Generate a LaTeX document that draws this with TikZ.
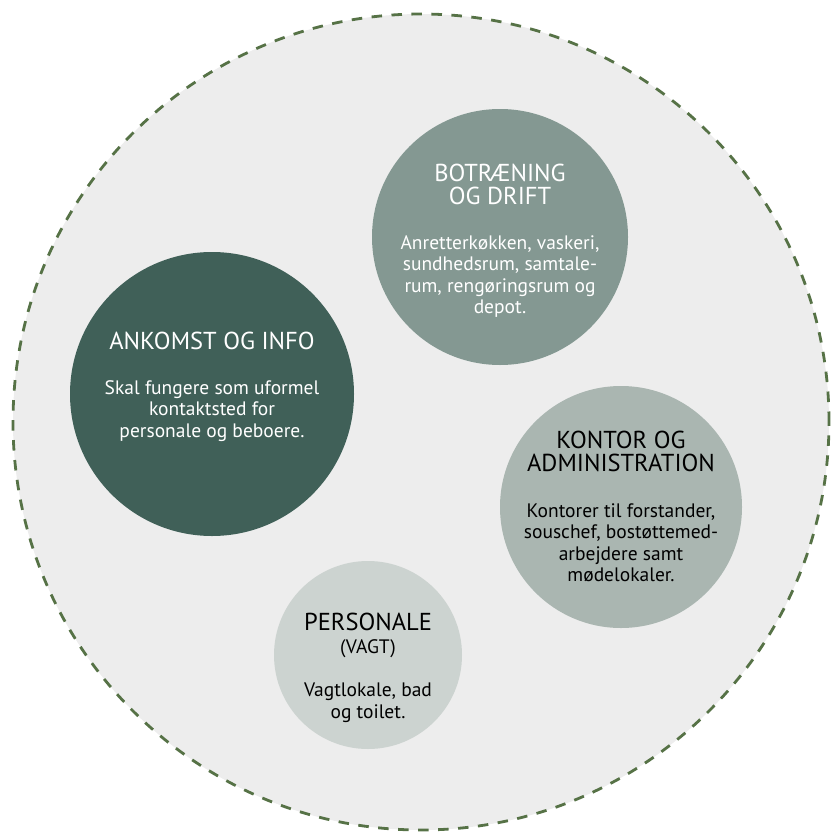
\documentclass[tikz,border=0pt]{standalone}
\usepackage{fontspec}
\setmainfont{PT Sans}
\usetikzlibrary{positioning}
\definecolor{ringgreen}{RGB}{86,114,70}
\definecolor{ringfill}{RGB}{237,237,237}
\definecolor{darkteal}{RGB}{64,96,88}
\definecolor{midteal}{RGB}{132,152,146}
\definecolor{lightteal}{RGB}{170,182,177}
\definecolor{paleteal}{RGB}{204,211,208}

\tikzset{
  bubble/.style={circle, draw=none, inner sep=0pt},
  headtext/.style={anchor=base, align=center, inner sep=0pt,
                   font=\fontsize{24.5}{23}\selectfont},
  bodytext/.style={anchor=base, align=center, inner sep=0pt,
                   font=\fontsize{19.5}{21.5}\selectfont},
}

\begin{document}
\begin{tikzpicture}[x=1pt, y=-1pt]
    \useasboundingbox (0,0) rectangle (832,838);

    % ---- Ydre ring ----
    \node[bubble, fill=ringfill, draw=ringgreen, line width=2.8pt,
          dash pattern=on 10.5pt off 9.5pt, minimum size=816pt] (ring) at (421,422) {};

    % ---- Ankomst og info (base = sidste linje) ----
    \node[bubble, fill=darkteal, minimum size=284pt] (ankomst) at (212,394) {};
    \node[headtext, text=white] (ankomsthead) at ([yshift=45pt]ankomst.center) {ANKOMST OG INFO};
    \node[bodytext, text=white] (ankomstbody) at ([yshift=-43pt]ankomst.center) {
      Skal fungere som uformel\\
      kontaktsted for\\
      personale og beboere.
    };

    % ---- Botræning og drift ----
    \node[bubble, fill=midteal, minimum size=256pt] (botraening) at (500,237) {};
    \node[headtext, text=white] (botraeninghead) at ([yshift=33pt]botraening.center) {
      BOTRÆNING\\
      OG DRIFT
    };
    \node[bodytext, text=white] (botraeningbody) at ([yshift=-76.5pt]botraening.center) {
      Anretterkøkken, vaskeri,\\
      sundhedsrum, samtale-\\
      rum, rengøringsrum og\\
      depot.
    };

    % ---- Kontor og administration ----
    \node[bubble, fill=lightteal, minimum size=242pt] (kontor) at (621,507) {};
    \node[headtext] (kontorhead) at ([yshift=36pt]kontor.center) {
      KONTOR OG\\
      ADMINISTRATION
    };
    \node[bodytext] (kontorbody) at ([yshift=-74.5pt]kontor.center) {
      Kontorer til forstander,\\
      souschef, bostøttemed-\\
      arbejdere samt\\
      mødelokaler.
    };

    % ---- Personale (vagt) ----
    \node[bubble, fill=paleteal, minimum size=188pt] (personale) at (368,655) {};
    \node[headtext] (personalehead) at ([yshift=25pt]personale.center) {PERSONALE};
    \node[bodytext] (personalesub) at ([yshift=2pt]personale.center) {(VAGT)};
    \node[bodytext] (personalebody) at ([yshift=-63pt]personale.center) {
      Vagtlokale, bad\\
      og toilet.
    };

\end{tikzpicture}
\end{document}
